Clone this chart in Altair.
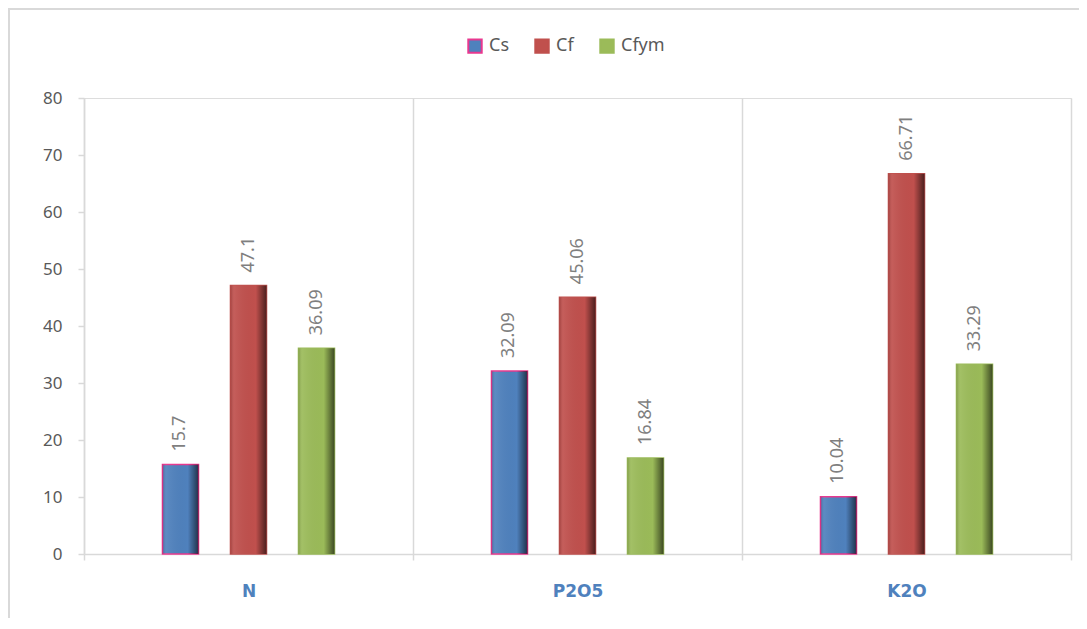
import altair as alt
import pandas as pd

categories = ["N", "P2O5", "K2O"]
series = ["Cs", "Cf", "Cfym"]
cs_values = [15.7, 32.09, 10.04]
cf_values = [47.1, 45.06, 66.71]
cfym_values = [36.09, 16.84, 33.29]

rows = []
for i, c in enumerate(categories):
    for s, vals in zip(series, [cs_values, cf_values, cfym_values]):
        rows.append({"cat": c, "series": s, "value": vals[i], "label": f"{vals[i]:g}"})
df = pd.DataFrame(rows)

fills = ["#4F81BD", "#C0504D", "#9BBB59"]
strokes = ["#E8388F", "#C0504D", "#9BBB59"]

x_enc = alt.X("cat:N", sort=categories, title=None,
              scale=alt.Scale(paddingInner=0, paddingOuter=0),
              axis=alt.Axis(tickBand="extent", grid=True, gridColor="#D9D9D9", gridWidth=1.5,
                            domainColor="#D9D9D9", domainWidth=1.5, tickColor="#D9D9D9",
                            tickWidth=1.5, tickSize=6, labelAngle=0, labelPadding=23,
                            labelFont="DejaVu Sans", labelFontWeight="bold", labelFontSize=17,
                            labelColor="#4F81BD"))
# two empty slots at the ends of each group give the wide gap between groups
offset_domain = ["_a"] + series + ["_b"]
xo = alt.XOffset("series:N", scale=alt.Scale(domain=offset_domain, paddingInner=0.47, paddingOuter=0.154))
y_enc = alt.Y("value:Q", title=None,
              scale=alt.Scale(domain=[0, 80], nice=False),
              axis=alt.Axis(values=[0, 10, 20, 30, 40, 50, 60, 70, 80], grid=False,
                            domainColor="#D9D9D9", domainWidth=1.5, tickColor="#D9D9D9",
                            tickWidth=1.5, tickSize=6, labelPadding=16, labelFontSize=17,
                            labelFont="Noto Sans", labelColor="#595959"))

base = alt.Chart(df)

bars = base.mark_bar(strokeWidth=1.5).encode(
    x=x_enc, xOffset=xo, y=y_enc,
    color=alt.Color("series:N", sort=series, title=None,
                    scale=alt.Scale(domain=series, range=fills),
                    legend=alt.Legend(orient="none", legendX=382, legendY=-61, direction="horizontal",
                                      symbolType="square", symbolSize=180, labelFontSize=18,
                                      labelFont="Noto Sans", labelColor="#595959",
                                      columnPadding=22, labelOffset=5, symbolStrokeWidth=2)),
    stroke=alt.Stroke("series:N", sort=series, title=None,
                      scale=alt.Scale(domain=series, range=strokes)),
)

shade = base.mark_bar(fill={
    "gradient": "linear", "x1": 0, "x2": 1, "y1": 0, "y2": 0,
    "stops": [
        {"offset": 0, "color": "rgba(0,0,0,0.15)"},
        {"offset": 0.1, "color": "rgba(255,255,255,0.08)"},
        {"offset": 0.7, "color": "rgba(0,0,0,0.0)"},
        {"offset": 1, "color": "rgba(0,0,0,0.6)"},
    ]}).encode(x=x_enc, xOffset=xo, y=y_enc)

labels = base.mark_text(angle=270, align="left", baseline="middle", dx=13,
                        fontSize=18, font="Noto Sans", color="#7F7F7F").encode(
    x=x_enc, xOffset=xo, y=y_enc, text="label:N")

frame = alt.Chart(alt.Data(values=[{}])).mark_rect(
    fill="transparent", stroke="#D9D9D9", strokeWidth=2).encode(
    x=alt.value(-75), x2=alt.value(1040), y=alt.value(-89), y2=alt.value(620))

chart = alt.layer(frame, bars, shade, labels).properties(
    width=987, height=456,
    autosize=alt.AutoSizeParams(type="none"),
    padding={"left": 76, "top": 90, "right": 8, "bottom": 64},
).configure_view(stroke=None).configure(background="white")

chart.save("out.html", embed_options={"renderer": "svg", "actions": False})
